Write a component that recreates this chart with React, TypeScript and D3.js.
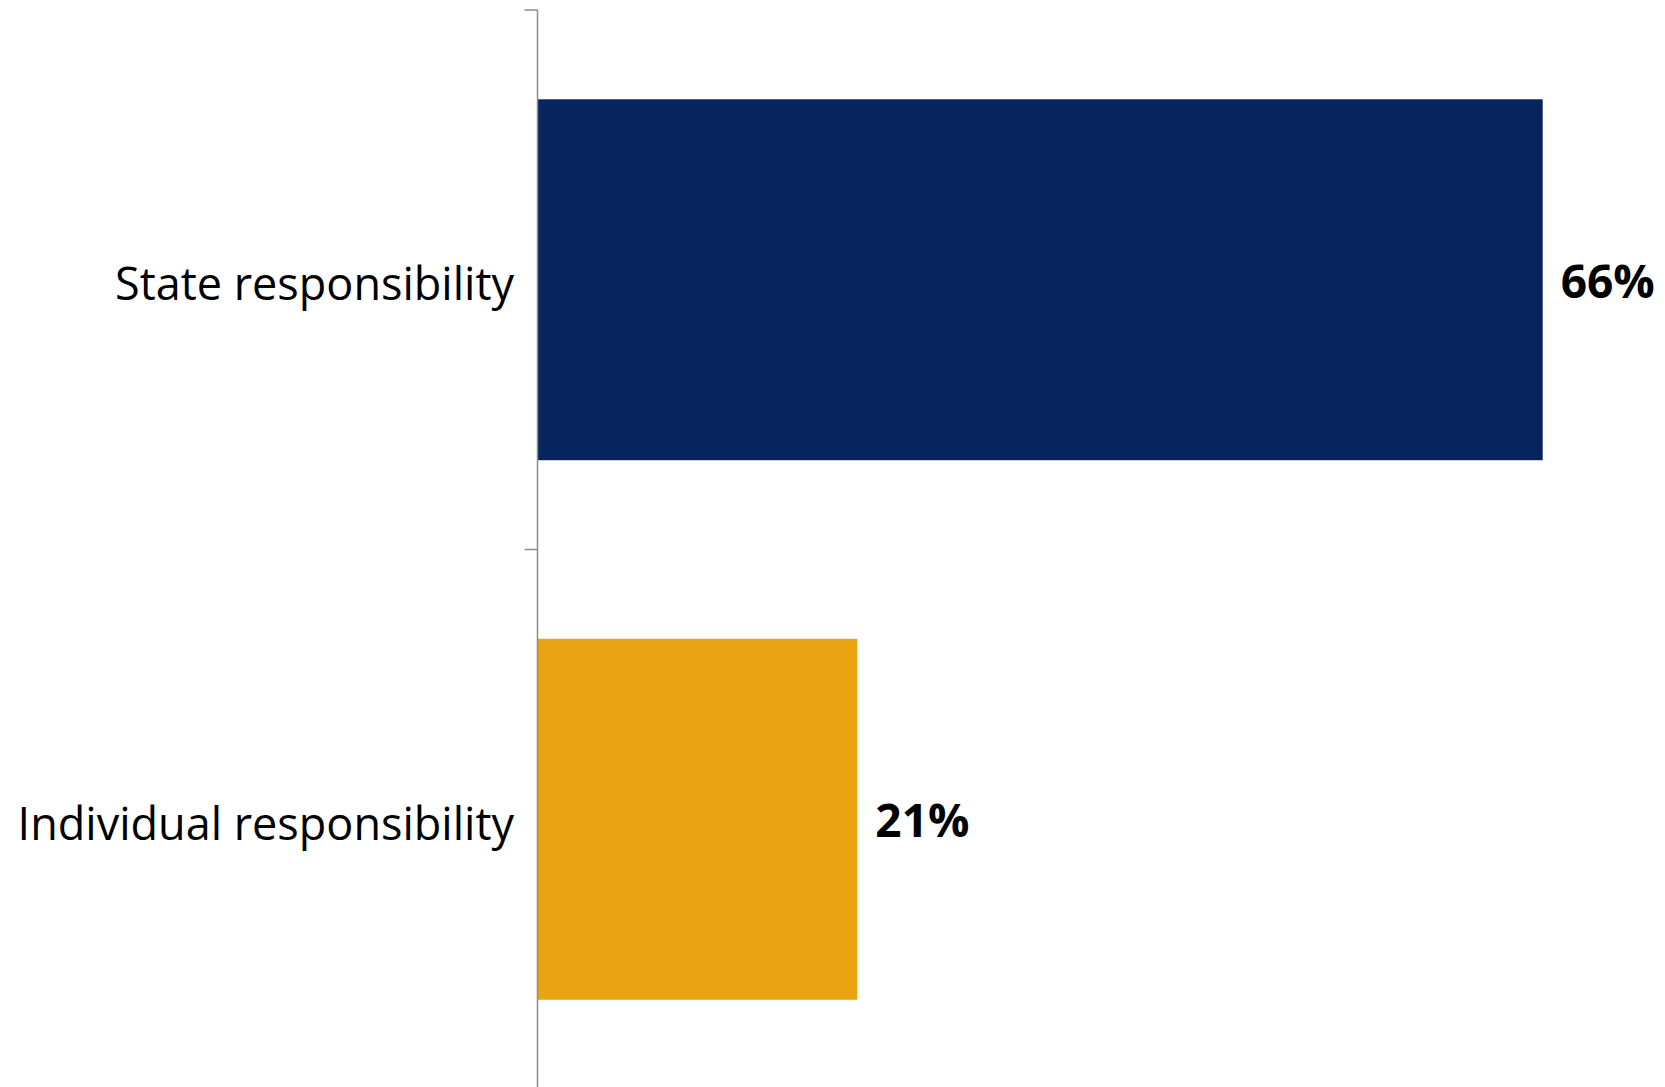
import React, { useEffect, useRef } from "react";
import * as d3 from "d3";

// Chart data
const categories: string[] = ["State responsibility", "Individual responsibility"];
const values: number[] = [66, 21];
const barColors: string[] = ["#08245E", "#E8A511"];

const width = 1665;
const height = 1087;

const App: React.FC = () => {
  const svgRef = useRef<SVGSVGElement | null>(null);

  useEffect(() => {
    if (!svgRef.current) return;

    const axisX = 537.5;
    const axisTop = 10;
    const axisBottom = 1089;

    d3.select(svgRef.current).selectAll("*").remove();

    const svg = d3
      .select(svgRef.current)
      .attr("width", width)
      .attr("height", height)
      .attr("viewBox", `0 0 ${width} ${height}`);

    const yScale = d3
      .scaleBand<string>()
      .domain(categories)
      .range([axisTop, axisBottom])
      .paddingInner(0.331)
      .paddingOuter(0.1655);

    // 66% reaches x ~ 1542.7
    const xScale = d3.scaleLinear().domain([0, 66]).range([axisX, 1542.7]);

    // Bars
    svg
      .selectAll(".bar")
      .data(values)
      .enter()
      .append("rect")
      .attr("class", "bar")
      .attr("x", xScale(0))
      .attr("y", (_, i) => yScale(categories[i]) as number)
      .attr("width", (d) => xScale(d) - xScale(0))
      .attr("height", yScale.bandwidth())
      .attr("fill", (_, i) => barColors[i]);

    // Y axis: line with ticks at band boundaries
    const step = yScale.step();
    const tickYs = d3.range(categories.length + 1).map((i) => axisTop + i * step);

    svg
      .append("line")
      .attr("x1", axisX)
      .attr("x2", axisX)
      .attr("y1", axisTop)
      .attr("y2", axisBottom)
      .attr("stroke", "#8C8C8C")
      .attr("stroke-width", 1.5);

    svg
      .selectAll(".tick")
      .data(tickYs)
      .enter()
      .append("line")
      .attr("class", "tick")
      .attr("x1", axisX - 13)
      .attr("x2", axisX)
      .attr("y1", (d) => d)
      .attr("y2", (d) => d)
      .attr("stroke", "#8C8C8C")
      .attr("stroke-width", 1.5);

    // Category labels
    svg
      .selectAll(".cat-label")
      .data(categories)
      .enter()
      .append("text")
      .attr("class", "cat-label")
      .attr("x", 514)
      .attr("y", (d) => (yScale(d) as number) + yScale.bandwidth() / 2 + 3)
      .attr("text-anchor", "end")
      .attr("dominant-baseline", "central")
      .attr("font-family", "'Open Sans', 'Noto Sans', sans-serif")
      .attr("font-size", "45px")
      .attr("fill", "#000")
      .text((d) => d);

    // Value labels
    svg
      .selectAll(".val-label")
      .data(values)
      .enter()
      .append("text")
      .attr("class", "val-label")
      .attr("x", (d) => xScale(d) + 18)
      .attr("y", (_, i) => (yScale(categories[i]) as number) + yScale.bandwidth() / 2)
      .attr("dominant-baseline", "central")
      .attr("font-family", "'Open Sans', 'Noto Sans', sans-serif")
      .attr("font-weight", "700")
      .attr("font-size", "46px")
      .attr("fill", "#000")
      .text((d) => `${d}%`);
  }, []);

  return (
    <div style={{ position: "absolute", left: 0, top: 0 }}>
      <svg ref={svgRef} style={{ display: "block" }} />
    </div>
  );
};

export default App;
